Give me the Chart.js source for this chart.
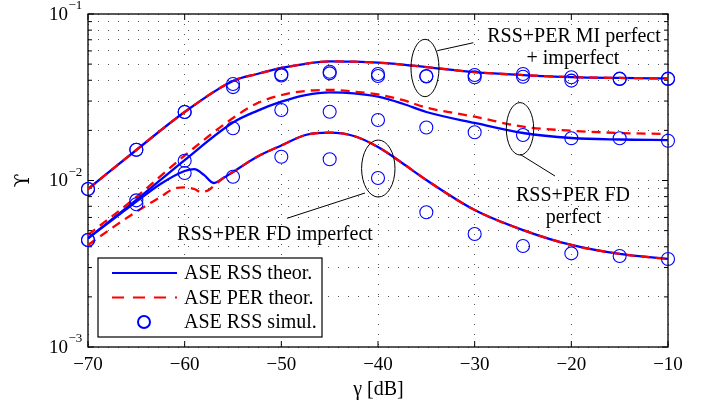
<!DOCTYPE html>
<html>
<head>
<meta charset="UTF-8">
<title>ASE vs gamma</title>
<script src="https://cdn.jsdelivr.net/npm/chart.js"></script>
<style>
  html, body { margin: 0; padding: 0; background: #fff; }
  #chart { display: block; }
</style>
</head>
<body>
<canvas id="chart" width="701" height="411"></canvas>
<script>
// axes
const xTicks = [-70, -60, -50, -40, -30, -20, -10];
const yTicks = [0.001, 0.002, 0.003, 0.004, 0.005, 0.006, 0.007, 0.008, 0.009,
                0.01, 0.02, 0.03, 0.04, 0.05, 0.06, 0.07, 0.08, 0.09, 0.1];
const yMajor = [0.001, 0.01, 0.1];

// simulated points (circles)
const xSim = [-70, -65, -60, -55, -50, -45, -40, -35, -30, -25, -20, -15, -10];
const simMiA = [0.0089, 0.0153, 0.0258, 0.0380, 0.0434, 0.0450, 0.0436, 0.0424, 0.0430, 0.0436, 0.0417, 0.0409, 0.0409];
const simMiB = [0.0089, 0.0153, 0.0258, 0.0364, 0.0427, 0.0440, 0.0424, 0.0421, 0.0417, 0.0420, 0.0398, 0.0407, 0.0407];
const simFdPerfect = [0.00439, 0.0076, 0.01315, 0.0206, 0.0265, 0.0259, 0.0231, 0.0208, 0.0195, 0.01876, 0.01793, 0.01793, 0.01734];
const simFdImperfect = [0.00439, 0.0072, 0.0111, 0.01054, 0.0139, 0.01341, 0.01035, 0.00644, 0.00477, 0.00404, 0.00365, 0.00352, 0.00338];

// theory, MI perfect + imperfect
const xMi = [-70, -65, -60, -55, -52.5, -50, -47.5, -45, -42.5, -40, -37.5, -35, -30, -25, -20, -15, -10];
const rssMi = [0.00889, 0.01525, 0.02579, 0.03959, 0.04361, 0.04739, 0.0502, 0.0520, 0.0517, 0.0510, 0.0497, 0.0480, 0.0448, 0.0430, 0.0418, 0.0413, 0.0410];
const perMi = [0.00889, 0.01525, 0.02579, 0.03959, 0.04361, 0.04739, 0.0502, 0.0520, 0.0517, 0.0510, 0.0497, 0.0480, 0.0448, 0.0430, 0.0418, 0.0413, 0.0410];

// theory, FD perfect
const xFdP = [-70, -65, -60, -55, -52.5, -50, -47.5, -45, -42.5, -40, -37.5, -35, -30, -25, -20, -15, -10];
const rssFdPerfect = [0.0045, 0.00764, 0.01327, 0.0223, 0.0262, 0.02973, 0.0326, 0.03386, 0.0334, 0.03187, 0.0290, 0.02579, 0.02215, 0.01929, 0.0180, 0.01763, 0.0175];
const perFdPerfect = [0.00471, 0.00796, 0.01413, 0.02373, 0.0291, 0.0326, 0.0345, 0.0350, 0.0342, 0.0329, 0.0305, 0.02745, 0.02416, 0.02104, 0.01991, 0.01929, 0.01902];

// theory, FD imperfect
const xRssFdI = [-70, -65, -62.5, -60, -59, -58, -57, -56, -55, -52.5, -50, -47.5, -45, -42.5, -40, -37.5, -35, -30, -25, -20, -15, -10];
const rssFdImperfect = [0.0045, 0.00746, 0.00953, 0.0114, 0.0117, 0.0108, 0.00966, 0.01035, 0.01125, 0.0139, 0.01623, 0.01876, 0.01937, 0.0185, 0.0159, 0.01274, 0.01007, 0.00665, 0.00504, 0.0041, 0.00362, 0.00338];
const xPerFdI = [-70, -67.5, -65, -62.5, -61, -60, -59, -58.3, -57.5, -57, -56, -55, -52.5, -50, -47.5, -45, -42.5, -40, -37.5, -35, -30, -25, -20, -15, -10];
const perFdImperfect = [0.0041, 0.00519, 0.0065, 0.00796, 0.00898, 0.0091, 0.00889, 0.00853, 0.00877, 0.00927, 0.01035, 0.01125, 0.0139, 0.01623, 0.01876, 0.01937, 0.0185, 0.0159, 0.01274, 0.01007, 0.00665, 0.00504, 0.0041, 0.00362, 0.00338];

// annotations (data coordinates)
const ellipses = [
  { x: -35.14, y: 0.04739, rx: 14, ry: 28.7 },
  { x: -25.31, y: 0.02044, rx: 13.7, ry: 26.2 },
  { x: -39.97, y: 0.0118, rx: 16.7, ry: 28.5 }
];
const leaders = [
  [[-33.87, 0.0602], [-30.14, 0.0672]],
  [[-25.31, 0.01437], [-21.69, 0.01064]],
  [[-41.35, 0.00841], [-49.41, 0.00593]]
];
const notes = [
  { text: 'RSS+PER MI perfect', x: -19.73, y: 0.0731 },
  { text: '+ imperfect', x: -19.83, y: 0.0542 },
  { text: 'RSS+PER FD', x: -19.83, y: 0.00807 },
  { text: 'perfect', x: -19.78, y: 0.00595 },
  { text: 'RSS+PER FD imperfect', x: -50.66, y: 0.00471 }
];

const BLUE = '#0000ff', RED = '#ff0000';
const SERIF = '"Liberation Serif", "Times New Roman", serif';
const pts = (xs, ys) => xs.map((x, i) => ({ x: x, y: ys[i] }));

function circles(ys) {
  return {
    type: 'scatter', data: pts(xSim, ys), showLine: false, clip: false,
    pointStyle: 'circle', pointRadius: 6.5, borderWidth: 1.1,
    borderColor: BLUE, backgroundColor: 'rgba(0,0,0,0)'
  };
}
function curve(xs, ys, color, dash) {
  return {
    type: 'line', data: pts(xs, ys), borderColor: color, borderWidth: 2.3,
    borderDash: dash, pointRadius: 0, fill: false, cubicInterpolationMode: 'monotone'
  };
}

const decor = {
  id: 'decor',
  beforeDatasetsDraw(chart) {
    const { ctx, chartArea: a, scales: { x, y } } = chart;
    ctx.save();
    ctx.strokeStyle = '#000';
    ctx.lineWidth = 1.3;
    ctx.strokeRect(a.left, a.top, a.right - a.left, a.bottom - a.top);
    ctx.lineWidth = 1;
    ctx.beginPath();
    xTicks.forEach(v => {
      const px = x.getPixelForValue(v);
      ctx.moveTo(px, a.bottom); ctx.lineTo(px, a.bottom - 6);
      ctx.moveTo(px, a.top); ctx.lineTo(px, a.top + 6);
    });
    yTicks.forEach(v => {
      const py = y.getPixelForValue(v);
      const len = yMajor.includes(v) ? 6 : 4;
      ctx.moveTo(a.left, py); ctx.lineTo(a.left + len, py);
      ctx.moveTo(a.right, py); ctx.lineTo(a.right - len, py);
    });
    ctx.stroke();
    ctx.restore();
  },
  afterDatasetsDraw(chart) {
    const { ctx, chartArea: a, scales: { x, y } } = chart;
    ctx.save();
    ctx.strokeStyle = '#000';
    ctx.fillStyle = '#000';
    ctx.lineWidth = 1;

    // ellipses + leader lines
    ellipses.forEach(e => {
      ctx.beginPath();
      ctx.ellipse(x.getPixelForValue(e.x), y.getPixelForValue(e.y), e.rx, e.ry, 0, 0, Math.PI * 2);
      ctx.stroke();
    });
    leaders.forEach(l => {
      ctx.beginPath();
      ctx.moveTo(x.getPixelForValue(l[0][0]), y.getPixelForValue(l[0][1]));
      ctx.lineTo(x.getPixelForValue(l[1][0]), y.getPixelForValue(l[1][1]));
      ctx.stroke();
    });

    ctx.font = '20px ' + SERIF;
    ctx.textAlign = 'center';
    ctx.textBaseline = 'middle';
    notes.forEach(n => {
      const px = x.getPixelForValue(n.x), py = y.getPixelForValue(n.y);
      const w = ctx.measureText(n.text).width;
      ctx.fillStyle = '#fff';
      ctx.fillRect(px - w / 2 - 1, py - 8, w + 2, 16);
      ctx.fillStyle = '#000';
      ctx.fillText(n.text, px, py);
    });

    // legend
    const L = { left: 98, top: 258, w: 224, h: 79 };
    ctx.fillStyle = '#fff';
    ctx.fillRect(L.left, L.top, L.w, L.h);
    ctx.strokeStyle = '#000';
    ctx.lineWidth = 1.2;
    ctx.strokeRect(L.left, L.top, L.w, L.h);
    const rows = [
      { label: 'ASE RSS theor.', kind: 'solid' },
      { label: 'ASE PER theor.', kind: 'dash' },
      { label: 'ASE RSS simul.', kind: 'circle' }
    ];
    rows.forEach((r, i) => {
      const ry = L.top + 15 + i * 24.5;
      ctx.lineWidth = 2;
      if (r.kind === 'circle') {
        ctx.strokeStyle = BLUE;
        ctx.beginPath();
        ctx.arc(144, ry, 6, 0, Math.PI * 2);
        ctx.stroke();
      } else {
        ctx.strokeStyle = r.kind === 'solid' ? BLUE : RED;
        ctx.setLineDash(r.kind === 'dash' ? [12, 9] : []);
        ctx.beginPath();
        ctx.moveTo(112, ry); ctx.lineTo(177, ry);
        ctx.stroke();
        ctx.setLineDash([]);
      }
      ctx.fillStyle = '#000';
      ctx.textAlign = 'left';
      ctx.fillText(r.label, 184, ry + 1);
    });

    // tick labels
    ctx.fillStyle = '#000';
    ctx.font = '19px ' + SERIF;
    ctx.textAlign = 'center';
    xTicks.forEach(v => {
      const label = (v < 0 ? '\u2212' : '') + Math.abs(v);
      ctx.fillText(label, x.getPixelForValue(v), a.bottom + 18);
    });
    yMajor.forEach(v => {
      const py = y.getPixelForValue(v);
      ctx.font = '19px ' + SERIF;
      ctx.textAlign = 'right';
      ctx.fillText('10', 68, py + 1);
      ctx.font = '13px ' + SERIF;
      ctx.textAlign = 'left';
      ctx.fillText('\u2212' + Math.round(-Math.log10(v)), 68.5, py - 8);
    });

    // axis titles
    ctx.font = '20px ' + SERIF;
    ctx.textAlign = 'center';
    ctx.fillText('\u03b3 [dB]', (a.left + a.right) / 2 + 0.5, 390);
    ctx.translate(24, (a.top + a.bottom) / 2);
    ctx.rotate(-Math.PI / 2);
    ctx.font = '20px "DejaVu Serif", serif';
    ctx.fillText('\u03d2', 0, 0);
    ctx.restore();
  }
};

new Chart(document.getElementById('chart'), {
  data: {
    datasets: [
      circles(simMiA), circles(simMiB), circles(simFdPerfect), circles(simFdImperfect),
      curve(xMi, perMi, RED, [9, 6]),
      curve(xFdP, perFdPerfect, RED, [9, 6]),
      curve(xPerFdI, perFdImperfect, RED, [9, 6]),
      curve(xMi, rssMi, BLUE, []),
      curve(xFdP, rssFdPerfect, BLUE, []),
      curve(xRssFdI, rssFdImperfect, BLUE, [])
    ]
  },
  options: {
    responsive: false,
    animation: false,
    layout: { padding: { left: 0, right: 33, top: 14, bottom: 0 } },
    plugins: { legend: { display: false }, tooltip: { enabled: false } },
    scales: {
      x: {
        type: 'linear', min: -70, max: -10,
        afterBuildTicks: s => { s.ticks = xTicks.map(v => ({ value: v })); },
        afterFit: s => { s.height = 64; },
        ticks: { display: false },
        grid: { color: '#555', lineWidth: 1, drawTicks: false },
        border: { display: false, dash: [1, 9] }
      },
      y: {
        type: 'logarithmic', min: 0.001, max: 0.1,
        afterBuildTicks: s => { s.ticks = yTicks.map(v => ({ value: v })); },
        afterFit: s => { s.width = 88; },
        ticks: { display: false },
        grid: { color: '#555', lineWidth: 1, drawTicks: false },
        border: { display: false, dash: [1, 9] }
      }
    }
  },
  plugins: [decor]
});
</script>
</body>
</html>
